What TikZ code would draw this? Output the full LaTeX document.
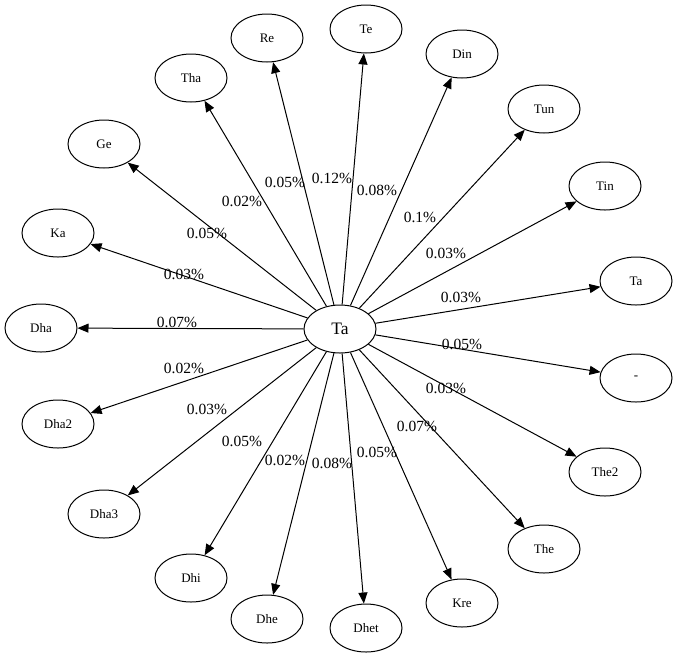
\documentclass[tikz,border=0pt]{standalone}
\usepackage{fontspec}
\setmainfont{Liberation Serif}
\usetikzlibrary{shapes.geometric,arrows.meta}

\tikzset{
  leaf/.style={draw, line width=1pt, ellipse, minimum width=72pt, minimum height=48pt, inner sep=0pt, font=\fontsize{13}{15}\selectfont},
  hubnode/.style={leaf, font=\fontsize{17.5}{20}\selectfont},
  edge/.style={draw, line width=1pt, -{Triangle[length=11pt,width=9pt]}},
  pct/.style={inner sep=0pt, font=\fontsize{15.5}{18}\selectfont}
}

\begin{document}
\begin{tikzpicture}[x=1pt, y=-1pt]
\useasboundingbox (0,0) rectangle (679,657);
\node[hubnode] (hub) at (340,329) {Ta};
\foreach \name/\txt/\x/\y/\lab/\lx/\ly in {
  re/Re/267/38/0.05/285/182,
  te/Te/366/29/0.12/332/178,
  din/Din/462/54/0.08/377/190,
  tun/Tun/544/109/0.1/420/217,
  tin/Tin/605/186/0.03/446/253,
  ta/Ta/636/281/0.03/461/297,
  dash/-/636/378/0.05/462/344,
  thetwo/The2/605/472/0.03/446/388,
  the/The/544/549/0.07/417/426,
  kre/Kre/462/603/0.05/377/452,
  dhet/Dhet/366/628/0.08/332/463,
  dhe/Dhe/267/619/0.02/285/460,
  dhi/Dhi/191/578/0.05/242/441,
  dhathree/Dha3/104/514/0.03/207/409,
  dhatwo/Dha2/58/424/0.02/184/368,
  dha/Dha/41/328/0.07/177/322,
  ka/Ka/58/233/0.03/184/274,
  ge/Ge/104/144/0.05/207/233,
  tha/Tha/191/78/0.02/242/201}
{
  \node[leaf] (\name) at (\x,\y) {\txt};
  \draw[edge] (hub) -- (\name);
  \node[pct] (l\name) at (\lx,\ly) {\lab\%};
}
\end{tikzpicture}
\end{document}
